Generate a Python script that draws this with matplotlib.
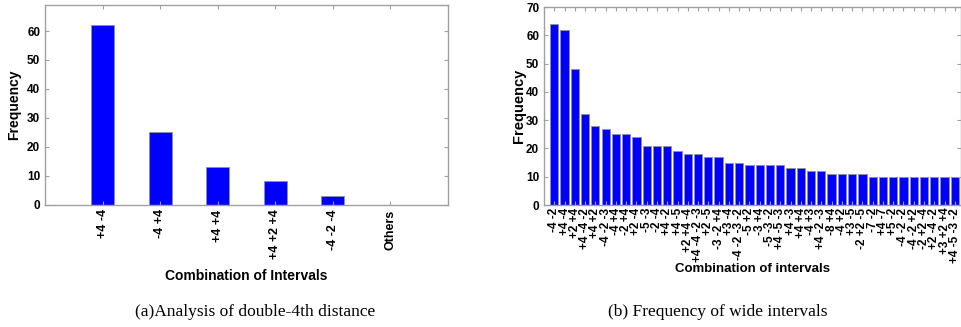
import numpy as np
import matplotlib.pyplot as plt

# (a) double-4th combinations
labels_a = ['+4 -4', '-4 +4', '+4 +4', '+4 +2 +4', '-4 -2 -4', 'Others']
freq_a = [62, 25, 13, 8, 3, 0]

# (b) wide intervals
labels_b = ['-4 -2', '+4 -4', '+2 +4', '+4 -4 -2', '+4 +2', '-4 -2 -3', '-4 +4',
            '-2 +4', '+2 -4', '-5 -3', '-2 -4', '+4 -2', '+4 -5', '+2 +4 -4',
            '+4 -4 -2 -3', '+2 -5', '-3 -2 +4', '+3 -4', '-4 -2 -3 -2', '-5 +2',
            '-3 +4', '-5 -3 -2', '+4 -5 -3', '+4 -3', '+4 +4', '-4 +3',
            '+4 -2 -3', '-8 +4', '-4 +2', '+3 -5', '-2 +2 -5', '-7 -2', '+4 -7',
            '+5 -2', '-4 -2 -2', '-4 -2 +2', '-2 +2 -4', '+2 -4 -2', '+3 +2 +4',
            '+4 -5 -3 -2']
freq_b = [64, 62, 48, 32, 28, 27, 25, 25, 24, 21, 21, 21, 19, 18, 18, 17, 17,
          15, 15, 14, 14, 14, 14, 13, 13, 12, 12, 11, 11, 11, 11, 10, 10, 10,
          10, 10, 10, 10, 10, 10]

plt.rcParams['font.family'] = 'Liberation Sans'
plt.rcParams['font.weight'] = 'bold'

W, H = 961.0, 327.0
fig = plt.figure(figsize=(W / 100, H / 100), dpi=100)

def style(ax):
    for s in ax.spines.values():
        s.set_color('#a0a0a0')
        s.set_linewidth(1.0)
    ax.tick_params(direction='in', top=True, right=True, color='#a0a0a0',
                   length=3, width=0.8)

# left chart
ax1 = fig.add_axes([45 / W, (H - 204.5) / H, 403 / W, 199.5 / H])
x1 = np.arange(1, len(freq_a) + 1)
ax1.bar(x1, freq_a, width=0.4, color='#0000ff', edgecolor='#9090a0', linewidth=0.6)
ax1.set_xlim(0, 7)
ax1.set_ylim(0, 69)
ax1.set_yticks([0, 10, 20, 30, 40, 50, 60])
ax1.set_xticks(x1)
ax1.set_xticklabels(labels_a, rotation=90, fontsize=9, fontweight='bold')
ax1.tick_params(axis='y', labelsize=8.5)
style(ax1)
ax1.set_ylabel('Frequency', fontsize=10, fontweight='bold', labelpad=4)
ax1.set_xlabel('Combination of Intervals', fontsize=10, fontweight='bold', labelpad=7)

# right chart
ax2 = fig.add_axes([544 / W, (H - 205) / H, 417 / W, 198 / H])
x2 = np.arange(1, len(freq_b) + 1)
ax2.bar(x2, freq_b, width=0.8, color='#0000ff', edgecolor='#9090a0', linewidth=0.6)
ax2.set_xlim(0, 40.6)
ax2.set_ylim(0, 70)
ax2.set_yticks(range(0, 71, 10))
ax2.set_xticks(x2)
ax2.set_xticklabels(labels_b, rotation=90, fontsize=8.5, fontweight='bold')
ax2.tick_params(axis='x', pad=2)
ax2.tick_params(axis='y', labelsize=8.5)
style(ax2)
ax2.set_ylabel('Frequency', fontsize=10.5, fontweight='bold', labelpad=0)
ax2.set_xlabel('Combination of intervals', fontsize=9.5, fontweight='bold', labelpad=0)

# captions
fig.text(255 / W, 1 - 312 / H, '(a)Analysis of double-4th distance',
         family='Liberation Serif', weight='normal', fontsize=12.5,
         ha='center', va='center')
fig.text(718 / W, 1 - 312 / H, '(b) Frequency of wide intervals',
         family='Liberation Serif', weight='normal', fontsize=12.5,
         ha='center', va='center')

fig.savefig('out.png', dpi=100)
